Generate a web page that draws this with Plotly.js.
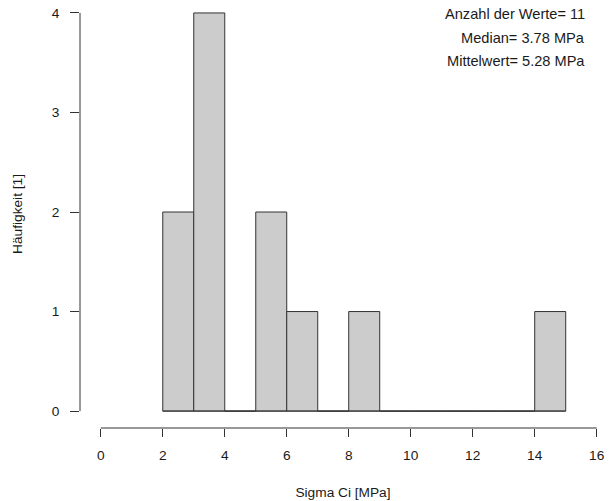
<!DOCTYPE html>
<html>
<head>
<meta charset="utf-8">
<script src="https://cdn.plot.ly/plotly-3.0.1.min.js"></script>
<style>html,body{margin:0;padding:0;background:#fff;}</style>
</head>
<body>
<div id="chart" style="width:609px;height:501px;"></div>
<script>
// Histogram data (breaks and counts)
const breaks = [2,3,4,5,6,7,8,9,10,11,12,13,14,15];
const counts = [2,4,0,2,1,0,1,0,0,0,0,0,1];
const xTicks = [0,2,4,6,8,10,12,14,16];
const yTicks = [0,1,2,3,4];
const infoLines = ["Anzahl der Werte= 11", "Median= 3.78 MPa", "Mittelwert= 5.28 MPa"];

const mids = counts.map((c,i)=> (breaks[i]+breaks[i+1])/2);
const widths = counts.map((c,i)=> breaks[i+1]-breaks[i]);
const font = {family: "Liberation Sans, Arial, sans-serif", size: 13.7, color: "#1a1a1a"};
const annFont = {family: "Liberation Sans, Arial, sans-serif", size: 14.6, color: "#1a1a1a"};
const lineCol = "#333";

const traces = [
  {
    type: "bar", x: mids, y: counts, width: widths,
    marker: {color: "#cccccc", line: {color: lineCol, width: 1}},
    hoverinfo: "skip", showlegend: false
  },
  {
    type: "scatter", mode: "lines",
    x: [breaks[0], breaks[breaks.length-1]], y: [0,0],
    line: {color: lineCol, width: 1}, hoverinfo: "skip", showlegend: false
  }
];

const layout = {
  width: 609, height: 501,
  margin: {l: 80, r: 3, t: 0, b: 73},
  paper_bgcolor: "#fff", plot_bgcolor: "#fff",
  bargap: 0,
  font: font,
  xaxis: {
    range: [-0.67, 16.3], tickvals: xTicks, ticktext: xTicks.map(String),
    ticks: "outside", ticklen: 8, tickcolor: lineCol, tickwidth: 1,
    ticklabelstandoff: 7,
    showline: false, showgrid: false, zeroline: false,
    tickfont: font,
    title: {text: "Sigma Ci [MPa]", font: font, standoff: 24}
  },
  yaxis: {
    range: [-0.17, 4.13], tickvals: yTicks, ticktext: yTicks.map(String),
    ticks: "outside", ticklen: 9, tickcolor: lineCol, tickwidth: 1,
    ticklabelstandoff: 8,
    showline: false, showgrid: false, zeroline: false,
    tickfont: font,
    title: {text: "Häufigkeit [1]", font: font, standoff: 25}
  },
  shapes: [
    {type: "line", xref: "x", yref: "paper", x0: xTicks[0], x1: xTicks[xTicks.length-1], y0: 0, y1: 0,
     line: {color: lineCol, width: 1}},
    {type: "line", xref: "paper", yref: "y", x0: 0, x1: 0, y0: yTicks[0], y1: yTicks[yTicks.length-1],
     line: {color: lineCol, width: 1}}
  ],
  annotations: infoLines.map((t,i)=>({
    text: t, xref: "paper", yref: "paper", x: 1, y: 1,
    xanchor: "right", yanchor: "middle", showarrow: false,
    xshift: -19, yshift: -14 - i*23.5, font: annFont
  }))
};

Plotly.newPlot("chart", traces, layout, {displayModeBar: false, staticPlot: true});
</script>
</body>
</html>
